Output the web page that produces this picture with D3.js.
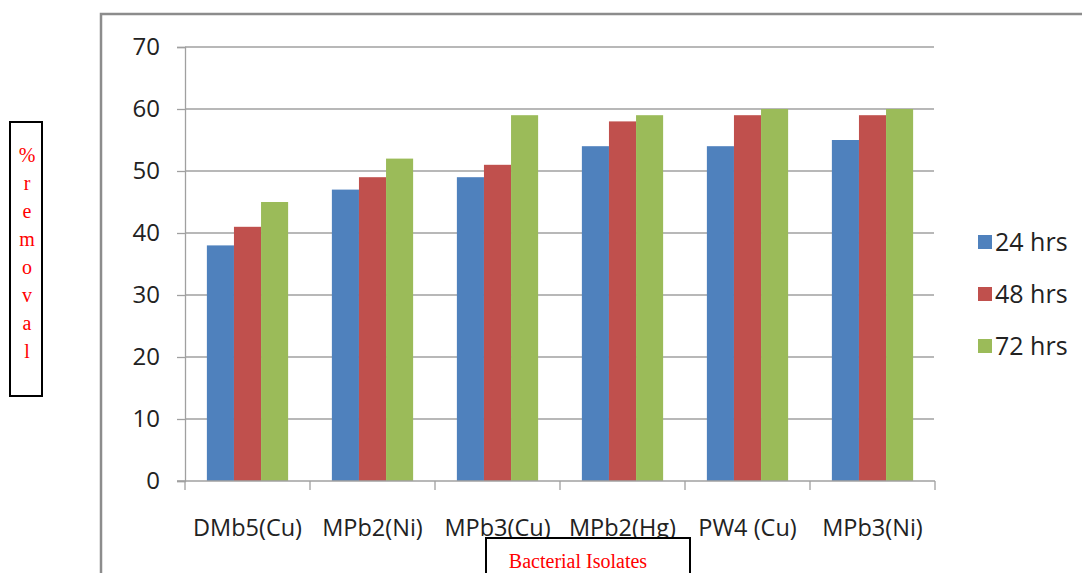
<!DOCTYPE html>
<html><head><meta charset="utf-8">
<script src="https://cdn.jsdelivr.net/npm/d3@7"></script>
<style>body{margin:0;background:#fff;} svg{display:block;}</style>
</head><body>
<svg id="c" width="1082" height="573"></svg>
<script>
const categories = ["DMb5(Cu)","MPb2(Ni)","MPb3(Cu)","MPb2(Hg)","PW4 (Cu)","MPb3(Ni)"];
const seriesNames = ["24 hrs","48 hrs","72 hrs"];
const s24 = [38,47,49,54,54,55];
const s48 = [41,49,51,58,59,59];
const s72 = [45,52,59,59,60,60];
const colors = ["#4f81bd","#c0504d","#9bbb59"];
const yTicks = [0,10,20,30,40,50,60,70];
const yLabelLetters = ["%","r","e","m","o","v","a","l"];

const svg = d3.select("#c");
const font = "'Open Sans', Lato, sans-serif";

// outer frame
svg.append("rect").attr("x",101).attr("y",14).attr("width",1090).attr("height",600)
  .attr("fill","none").attr("stroke","#8c8c8c").attr("stroke-width",2.5);

const x0 = d3.scaleBand().domain(categories).range([185,935]).paddingInner(0.35).paddingOuter(0.175);
const x1 = d3.scaleBand().domain(seriesNames).range([0,x0.bandwidth()]);
const y = d3.scaleLinear().domain([0,70]).range([481,47]);

// gridlines
svg.append("g").selectAll("line").data(yTicks.filter(d=>d>0)).join("line")
  .attr("x1",185).attr("x2",934).attr("y1",d=>y(d)).attr("y2",d=>y(d))
  .attr("stroke","#a0a0a0").attr("stroke-width",1.3);

// y axis
const yAxis = svg.append("g").attr("transform","translate(185,0)")
  .call(d3.axisLeft(y).tickValues(yTicks).tickSize(8).tickPadding(17));
yAxis.select(".domain").attr("stroke","#a0a0a0").attr("stroke-width",1.3);
yAxis.selectAll(".tick line").attr("stroke","#a0a0a0").attr("stroke-width",1.3);
yAxis.selectAll("text").attr("font-family",font).attr("font-size",24).attr("fill","#222");

// bars
const series = [s24,s48,s72];
const groups = svg.append("g").selectAll("g").data(categories).join("g")
  .attr("transform",d=>`translate(${x0(d)},0)`);
groups.selectAll("rect").data((d,i)=>seriesNames.map((s,j)=>({s,v:series[j][i],j}))).join("rect")
  .attr("x",d=>x1(d.s)).attr("width",x1.bandwidth()).attr("y",d=>y(d.v)).attr("height",d=>y(0)-y(d.v))
  .attr("fill",d=>colors[d.j]);

// x axis
const xTickScale = d3.scalePoint().domain(d3.range(7)).range([185,935]);
const xAxis = svg.append("g").attr("transform","translate(0,481)");
xAxis.append("line").attr("x1",177).attr("x2",935).attr("y1",0).attr("y2",0).attr("stroke","#a0a0a0").attr("stroke-width",1.3);
xAxis.selectAll("line.t").data(d3.range(7)).join("line").attr("class","t")
  .attr("x1",d=>xTickScale(d)).attr("x2",d=>xTickScale(d)).attr("y1",0).attr("y2",9)
  .attr("stroke","#a0a0a0").attr("stroke-width",1.3);
xAxis.selectAll("text").data(categories).join("text")
  .attr("x",d=>x0(d)+x0.bandwidth()/2).attr("y",55).attr("text-anchor","middle")
  .attr("font-family",font).attr("font-size",23.5).attr("fill","#222").text(d=>d);

// legend
const leg = svg.append("g").selectAll("g").data(seriesNames).join("g")
  .attr("transform",(d,i)=>`translate(978,${235+i*52})`);
leg.append("rect").attr("width",14).attr("height",14).attr("fill",(d,i)=>colors[i]);
leg.append("text").attr("x",17).attr("y",16).attr("font-family",font).attr("font-size",25).attr("fill","#222").text(d=>d);

// y label box
svg.append("rect").attr("x",10).attr("y",122).attr("width",32).attr("height",274)
  .attr("fill","none").attr("stroke","#000").attr("stroke-width",2);
svg.append("g").selectAll("text").data(yLabelLetters).join("text")
  .attr("x",27).attr("y",(d,i)=>162+i*28).attr("text-anchor","middle")
  .attr("font-family","'Liberation Serif', serif").attr("font-size",20).attr("fill","#ff0000").text(d=>d);

// x label box
svg.append("rect").attr("x",486).attr("y",538).attr("width",204).attr("height",60)
  .attr("fill","#fff").attr("stroke","#000").attr("stroke-width",2);
svg.append("text").attr("x",578).attr("y",568).attr("text-anchor","middle")
  .attr("font-family","'Liberation Serif', serif").attr("font-size",20).attr("fill","#ff0000").text("Bacterial Isolates");
</script>
</body></html>
